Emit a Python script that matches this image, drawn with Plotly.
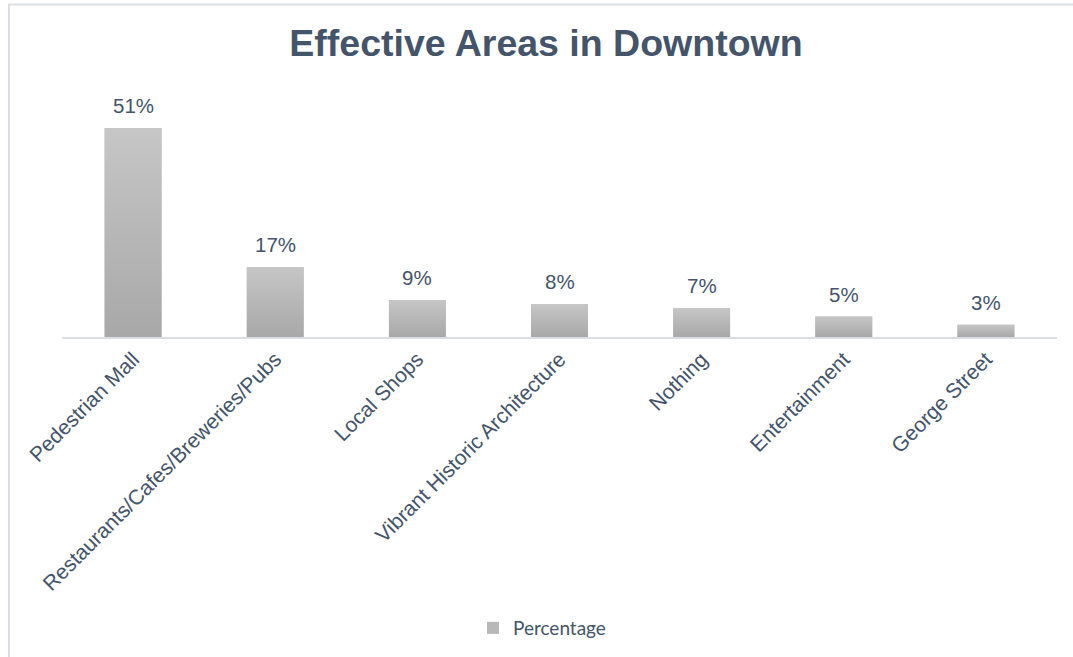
import plotly.graph_objects as go

# ---- data ----
categories = [
    "Pedestrian Mall",
    "Restaurants/Cafes/Breweries/Pubs",
    "Local Shops",
    "Vibrant Historic Architecture",
    "Nothing",
    "Entertainment",
    "George Street",
]
values = [51, 17, 9, 8, 7, 5, 3]
value_labels = [f"{v}%" for v in values]
series_name = "Percentage"
title_text = "Effective Areas in Downtown"

# ---- layout constants ----
W, H = 1073, 657
PL, PR, PT, PB = 62, 1057, 100, 338  # plot area in px
BAR_W = 0.4
TEXT_COLOR = "#44546a"
FONT = "Liberation Sans, Arial, sans-serif"


def px_x(px):
    return (px - PL) / (PR - PL)


def px_y(py):
    return (PB - py) / (PB - PT)


xs = list(range(len(categories)))

fig = go.Figure()

fig.add_trace(go.Bar(
    x=xs, y=values, width=BAR_W, name=series_name,
    marker=dict(color="#b8b8b8", line=dict(width=0)),
    hoverinfo="skip",
))

# gradient overlay per bar
for i, v in zip(xs, values):
    h = BAR_W / 2
    fig.add_trace(go.Scatter(
        x=[i - h, i + h, i + h, i - h, i - h],
        y=[0, 0, v, v, 0],
        mode="lines", fill="toself",
        line=dict(width=0, color="rgba(0,0,0,0)"),
        fillgradient=dict(type="vertical",
                          colorscale=[[0, "#a8a8a8"], [1, "#c6c6c6"]]),
        showlegend=False, hoverinfo="skip",
    ))

annotations = []
for i, v, lab in zip(xs, values, value_labels):
    annotations.append(dict(
        x=i, y=v, text=lab, showarrow=False, yanchor="bottom", yshift=9,
        font=dict(family=FONT, size=20.5, color=TEXT_COLOR),
    ))

fig.update_layout(
    width=W, height=H,
    margin=dict(l=PL, r=W - PR, t=PT, b=H - PB, pad=0),
    paper_bgcolor="white", plot_bgcolor="white",
    title=dict(
        text=f"<b>{title_text}</b>",
        x=546 / W, xanchor="center",
        y=1 - 43 / H, yanchor="middle",
        font=dict(family=FONT, size=37.5, color=TEXT_COLOR),
    ),
    xaxis=dict(
        range=[-0.5, len(categories) - 0.5],
        tickvals=xs, ticktext=categories, tickangle=-45,
        tickfont=dict(family=FONT, size=21, color=TEXT_COLOR),
        showline=True, linecolor="#d9dee6", linewidth=1.5,
        showgrid=False, zeroline=False, ticks="",
        fixedrange=True,
    ),
    yaxis=dict(range=[0, 57.8], visible=False, showgrid=False,
               zeroline=False, fixedrange=True),
    showlegend=True,
    legend=dict(
        orientation="h", x=px_x(473), xanchor="left",
        y=px_y(628), yanchor="middle",
        font=dict(family="Lato, Carlito, sans-serif", size=19, color=TEXT_COLOR),
        bgcolor="rgba(0,0,0,0)",
    ),
    annotations=annotations,
    shapes=[dict(
        type="rect", xref="paper", yref="paper",
        x0=px_x(9), x1=px_x(1090), y0=px_y(672), y1=px_y(4),
        line=dict(color="#d9dee6", width=2), fillcolor="rgba(0,0,0,0)",
        layer="below",
    )],
)

fig.write_html("out.html")
